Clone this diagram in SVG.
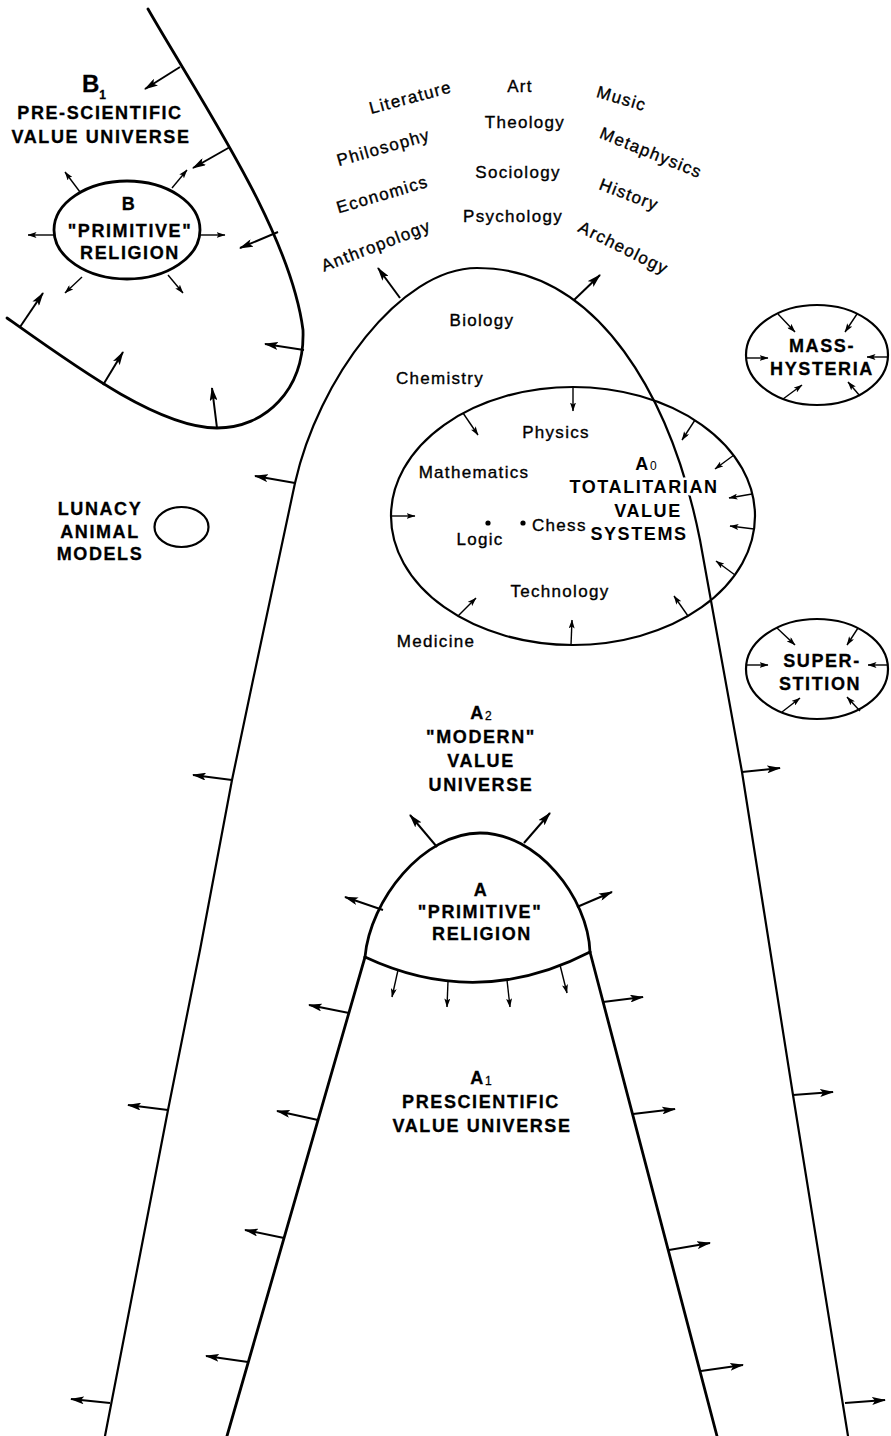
<svg xmlns="http://www.w3.org/2000/svg" width="891" height="1436" viewBox="0 0 891 1436">
<defs>
<style>
.c{fill:none;stroke:#000;stroke-linecap:round;stroke-linejoin:round}
.w2{stroke-width:2.2}
.w3{stroke-width:2.8}
.ar{stroke:#000;stroke-width:2;marker-end:url(#ah)}
.as{stroke:#000;stroke-width:1.4;marker-end:url(#ahs)}
.d{font-family:"Liberation Sans",Arial,sans-serif;font-size:17px;letter-spacing:1.3px;fill:#000;stroke:#000;stroke-width:0.35px;text-anchor:middle}
.b{font-family:"Liberation Sans",Arial,sans-serif;font-size:18px;font-weight:bold;letter-spacing:1.6px;fill:#000;stroke:#000;stroke-width:0.3px;text-anchor:middle}
.halo{stroke:#fff;stroke-width:5px;paint-order:stroke;stroke-linejoin:round}
.sub{font-size:12px;font-weight:normal;letter-spacing:0}
.dot{fill:#000}
</style>
<marker id="ah" viewBox="0 0 14 8" refX="13" refY="4" markerWidth="14" markerHeight="8" markerUnits="userSpaceOnUse" orient="auto"><path d="M0,0 L14,4 L0,8 L3,4 z" fill="#000"/></marker>
<marker id="ahs" viewBox="0 0 9 6" refX="8.5" refY="3" markerWidth="9" markerHeight="6" markerUnits="userSpaceOnUse" orient="auto"><path d="M0,0 L9,3 L0,6 L2,3 z" fill="#000"/></marker>
</defs>
<rect width="891" height="1436" fill="#fff"/>

<g id="node-B1">
<path class="c w3" d="M148,9 C200,100 290,230 303,330 C305,390 265,428 217,428 C160,428 80,370 7,318"/>
<text class="b" x="82" y="92" style="text-anchor:start;font-size:24px;letter-spacing:0">B<tspan class="sub" dy="7" style="font-weight:bold">1</tspan></text>
<text class="b" x="100" y="119">PRE-SCIENTIFIC</text>
<text class="b" x="101" y="143">VALUE UNIVERSE</text>
</g>

<g id="node-B">
<ellipse class="c w3" cx="127" cy="230" rx="73" ry="49"/>
<text class="b" x="129" y="210">B</text>
<text class="b" x="130" y="237">"PRIMITIVE"</text>
<text class="b" x="130" y="259">RELIGION</text>
</g>

<g id="node-lunacy">
<ellipse class="c w2" cx="181.5" cy="527" rx="27" ry="20"/>
<text class="b" x="100" y="515">LUNACY</text>
<text class="b" x="100" y="538">ANIMAL</text>
<text class="b" x="100" y="560">MODELS</text>
</g>

<g id="node-A2">
<path class="c w2" d="M105,1436 L168,1110 L200,950 L232,780 L253,680 L295,483 C318,380 400,268 477,268 C600,268 672,400 700,540 L742,772 L793,1095 L848,1436"/>
<text class="b" x="481" y="719">A<tspan class="sub" dy="1">2</tspan></text>
<text class="b" x="481" y="743">"MODERN"</text>
<text class="b" x="481" y="767">VALUE</text>
<text class="b" x="481" y="791">UNIVERSE</text>
</g>

<g id="node-A0">
<ellipse class="c w2" cx="573" cy="516" rx="182" ry="129"/>
<text class="b halo" x="646" y="470">A<tspan class="sub" dy="0">0</tspan></text>
<text class="b halo" x="644" y="493">TOTALITARIAN</text>
<text class="b halo" x="648" y="517">VALUE</text>
<text class="b halo" x="639" y="540">SYSTEMS</text>
</g>

<g id="node-A">
<path class="c w3" d="M365,957 C370,900 423,833 480,833 C537,833 588,897 590,952"/>
<path class="c w3" d="M365,957 Q478,1010 590,952"/>
<text class="b" x="481" y="896">A</text>
<text class="b" x="480" y="918">"PRIMITIVE"</text>
<text class="b" x="482" y="940">RELIGION</text>
</g>

<g id="node-A1">
<path class="c w3" d="M365,957 L227,1436"/>
<path class="c w3" d="M590,952 L717,1436"/>
<text class="b" x="481" y="1084">A<tspan class="sub" dy="1">1</tspan></text>
<text class="b" x="481" y="1108">PRESCIENTIFIC</text>
<text class="b" x="482" y="1132">VALUE UNIVERSE</text>
</g>

<g id="node-mass-hysteria">
<ellipse class="c w2" cx="817" cy="355" rx="71" ry="50"/>
<text class="b" x="822" y="352">MASS-</text>
<text class="b" x="822" y="375">HYSTERIA</text>
</g>

<g id="node-superstition">
<ellipse class="c w2" cx="817" cy="669" rx="71" ry="50"/>
<text class="b" x="822" y="667">SUPER-</text>
<text class="b" x="820" y="690">STITION</text>
</g>

<g id="disciplines">
<text class="d" transform="translate(412,103) rotate(-15)">Literature</text>
<text class="d" transform="translate(385,153) rotate(-16)">Philosophy</text>
<text class="d" transform="translate(384,200) rotate(-16.5)">Economics</text>
<text class="d" transform="translate(378,251) rotate(-21)">Anthropology</text>
<text class="d" x="520" y="92">Art</text>
<text class="d" x="525" y="128">Theology</text>
<text class="d" x="518" y="178">Sociology</text>
<text class="d" x="513" y="222">Psychology</text>
<text class="d" transform="translate(620,104) rotate(16.5)">Music</text>
<text class="d" transform="translate(649,158) rotate(22)">Metaphysics</text>
<text class="d" transform="translate(627,200) rotate(21)">History</text>
<text class="d" transform="translate(621,253) rotate(26.5)">Archeology</text>
<text class="d" x="482" y="326">Biology</text>
<text class="d" x="440" y="384">Chemistry</text>
<text class="d" x="556" y="438">Physics</text>
<text class="d" x="474" y="478">Mathematics</text>
<text class="d" x="480" y="545">Logic</text>
<circle class="dot" cx="488" cy="523" r="2.6"/>
<circle class="dot" cx="523" cy="523" r="2.6"/>
<text class="d" x="532" y="531" style="text-anchor:start">Chess</text>
<text class="d" x="560" y="597">Technology</text>
<text class="d" x="436" y="647">Medicine</text>
</g>

<g id="connectors">
<line class="ar" x1="180" y1="67" x2="145" y2="89"/>
<line class="ar" x1="230" y1="147" x2="193" y2="168"/>
<line class="ar" x1="278" y1="232" x2="240" y2="248"/>
<line class="ar" x1="304" y1="350" x2="265" y2="344"/>
<line class="ar" x1="217" y1="428" x2="212" y2="388"/>
<line class="ar" x1="103" y1="385" x2="123" y2="352"/>
<line class="ar" x1="20" y1="327" x2="43" y2="293"/>
<line class="as" x1="80" y1="192" x2="65" y2="172"/>
<line class="as" x1="172" y1="188" x2="187" y2="170"/>
<line class="as" x1="54" y1="235" x2="28" y2="235"/>
<line class="as" x1="200" y1="235" x2="225" y2="235"/>
<line class="as" x1="82" y1="277" x2="65" y2="293"/>
<line class="as" x1="168" y1="275" x2="183" y2="293"/>
<line class="ar" x1="400" y1="298" x2="378" y2="268"/>
<line class="ar" x1="574" y1="300" x2="600" y2="275"/>
<line class="ar" x1="295" y1="483" x2="255" y2="476"/>
<line class="ar" x1="232" y1="780" x2="193" y2="775"/>
<line class="ar" x1="168" y1="1110" x2="128" y2="1105"/>
<line class="ar" x1="110" y1="1403" x2="71" y2="1399"/>
<line class="ar" x1="742" y1="772" x2="780" y2="768"/>
<line class="ar" x1="793" y1="1095" x2="833" y2="1092"/>
<line class="ar" x1="845" y1="1403" x2="885" y2="1400"/>
<line class="as" x1="573" y1="387" x2="573" y2="411"/>
<line class="as" x1="463" y1="413" x2="478" y2="435"/>
<line class="as" x1="391" y1="516" x2="415" y2="516"/>
<line class="as" x1="458" y1="616" x2="476" y2="598"/>
<line class="as" x1="571" y1="645" x2="572" y2="620"/>
<line class="as" x1="688" y1="616" x2="674" y2="596"/>
<line class="as" x1="695" y1="420" x2="682" y2="440"/>
<line class="as" x1="734" y1="455" x2="715" y2="469"/>
<line class="as" x1="752" y1="494" x2="729" y2="498"/>
<line class="as" x1="754" y1="529" x2="730" y2="526"/>
<line class="as" x1="735" y1="575" x2="716" y2="561"/>
<line class="as" x1="778" y1="314" x2="795" y2="332"/>
<line class="as" x1="857" y1="314" x2="845" y2="332"/>
<line class="as" x1="746" y1="358" x2="768" y2="358"/>
<line class="as" x1="888" y1="357" x2="867" y2="357"/>
<line class="as" x1="783" y1="399" x2="802" y2="385"/>
<line class="as" x1="860" y1="396" x2="848" y2="382"/>
<line class="as" x1="777" y1="628" x2="795" y2="645"/>
<line class="as" x1="858" y1="628" x2="847" y2="645"/>
<line class="as" x1="746" y1="665" x2="768" y2="665"/>
<line class="as" x1="888" y1="665" x2="868" y2="665"/>
<line class="as" x1="782" y1="712" x2="800" y2="698"/>
<line class="as" x1="860" y1="711" x2="847" y2="697"/>
<line class="ar" x1="437" y1="847" x2="410" y2="815"/>
<line class="ar" x1="524" y1="843" x2="550" y2="813"/>
<line class="ar" x1="383" y1="910" x2="345" y2="897"/>
<line class="ar" x1="577" y1="907" x2="612" y2="892"/>
<line class="as" x1="398" y1="970" x2="392" y2="997"/>
<line class="as" x1="448" y1="981" x2="447" y2="1007"/>
<line class="as" x1="507" y1="980" x2="510" y2="1007"/>
<line class="as" x1="560" y1="965" x2="567" y2="993"/>
<line class="ar" x1="349" y1="1013" x2="309" y2="1005"/>
<line class="ar" x1="318" y1="1120" x2="277" y2="1111"/>
<line class="ar" x1="284" y1="1238" x2="245" y2="1230"/>
<line class="ar" x1="248" y1="1362" x2="206" y2="1356"/>
<line class="ar" x1="603" y1="1002" x2="643" y2="997"/>
<line class="ar" x1="633" y1="1114" x2="675" y2="1109"/>
<line class="ar" x1="669" y1="1250" x2="710" y2="1243"/>
<line class="ar" x1="701" y1="1371" x2="743" y2="1365"/>
</g>
</svg>
